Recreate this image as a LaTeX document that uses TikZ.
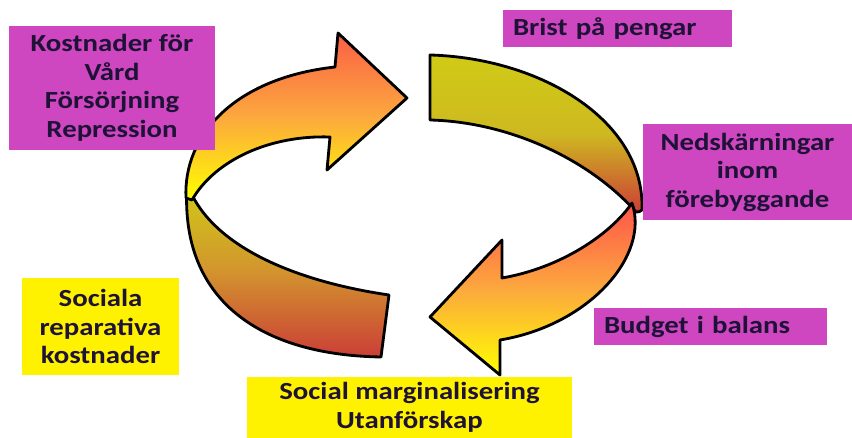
\documentclass[tikz,border=0pt]{standalone}
\usepackage{fontspec}
\setmainfont{Carlito}[FakeStretch=1.17]
\definecolor{boxpink}{RGB}{206,70,192}
\definecolor{boxink}{RGB}{30,18,55}
\definecolor{hotred}{RGB}{250,95,70}
\definecolor{warmorange}{RGB}{252,168,62}
\definecolor{olive}{RGB}{208,203,22}
\definecolor{brownmid}{RGB}{210,148,46}
\definecolor{backred}{RGB}{203,62,55}

\begin{document}
\begin{tikzpicture}[x=0.02cm, y=-0.02cm,
	lbl/.style={font=\fontsize{14}{16.2}\selectfont\bfseries, text=boxink, inner sep=0pt, align=center},
	pinkbox/.style={lbl, fill=boxpink},
	yellowbox/.style={lbl, fill=yellow},
	band/.style={draw=black, line width=1.6pt, line join=round}]
	\useasboundingbox (0,0) rectangle (852,438);
	
	% left arrow: back part, then front part with the head
	\draw [band, top color=olive, bottom color=backred, middle color=brownmid] (187,186) .. controls (180,300) and (260,355) .. (381,357) -- (389,295) .. controls (300,282) and (220,250) .. (192,195) -- cycle;
	\draw [band, top color=hotred, bottom color=yellow, middle color=warmorange] (186,198) .. controls (183,135) and (235,78) .. (335,67) -- (338,33) -- (407,98) -- (327,170) -- (330,137) .. controls (270,135) and (215,160) .. (192,200) -- cycle;
	
	% right arrow: back part, then front part with the head
	\draw [band, top color=olive, bottom color=backred, middle color={rgb,255:red,206;green,185;blue,32}] (430,55) .. controls (540,58) and (645,120) .. (642,210) .. controls (640,212) and (638,212) .. (636,212) .. controls (590,160) and (510,122) .. (430,120) -- cycle;
	\draw [band, top color={rgb,255:red,255;green,85;blue,75}, bottom color=yellow, middle color=warmorange] (632,203) .. controls (650,255) and (590,325) .. (500,340) -- (500,375) -- (430,317) -- (502,240) -- (502,278) .. controls (560,268) and (610,235) .. (632,203) -- cycle;
	
	\node [pinkbox, minimum width=4.12cm, minimum height=2.48cm] (kost) at (112,88) {Kostnader för\\Vård\\Försörjning\\Repression};
	\node [pinkbox, minimum width=4.58cm, minimum height=0.74cm, text width=4.18cm, align=left] (brist) at (617.5,28.5) {Brist på pengar};
	\node [pinkbox, minimum width=4.18cm, minimum height=1.92cm] (ned) at (747.5,172) {Nedskärningar\\inom\\förebyggande};
	\node [pinkbox, minimum width=4.66cm, minimum height=0.74cm, text width=4.26cm, align=left] (budget) at (710.5,326.5) {Budget i balans};
	\node [yellowbox, minimum width=3.14cm, minimum height=1.94cm] (soc) at (100.5,326.5) {Sociala\\reparativa\\kostnader};
	\node [yellowbox, minimum width=6.5cm, minimum height=1.22cm] (marg) at (409.5,407.5) {Social marginalisering\\Utanförskap};
\end{tikzpicture}
\end{document}
